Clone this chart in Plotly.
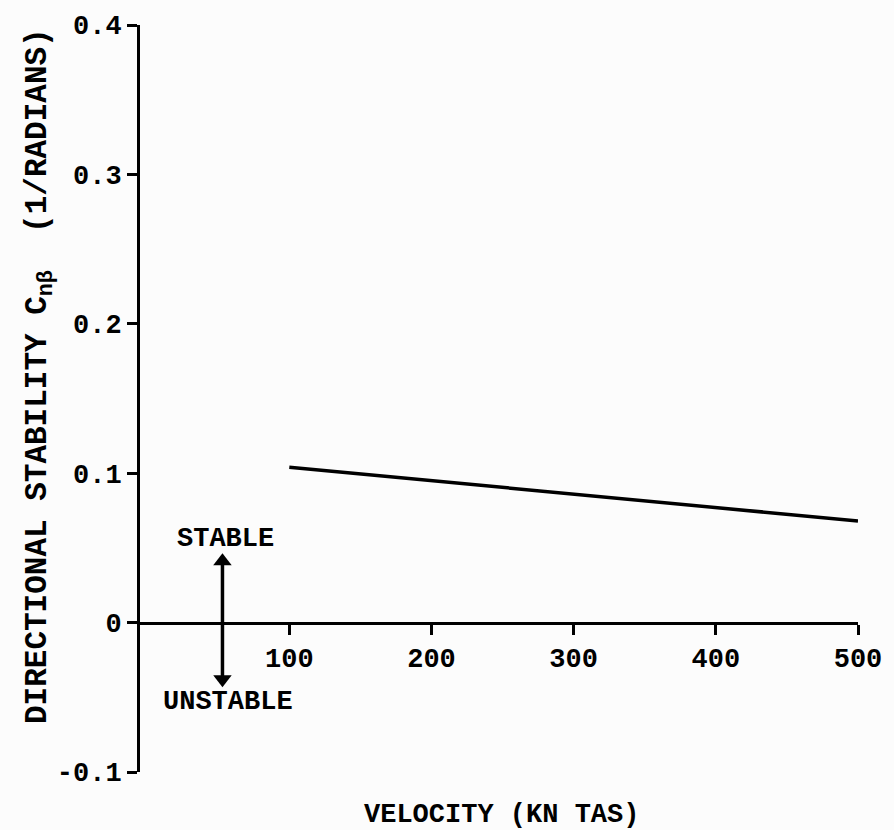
import plotly.graph_objects as go

# Data
velocity = [100, 500]
cn_beta = [0.104, 0.068]

# stable / unstable double arrow (x, y ends)
arrow_x = [53, 53]
arrow_y = [0.041, -0.038]

x_ticks = [100, 200, 300, 400, 500]
y_ticks = [-0.1, 0, 0.1, 0.2, 0.3, 0.4]
y_tick_labels = ["-0.1", "0", "0.1", "0.2", "0.3", "0.4"]

FONT = "Liberation Mono"
SIZE = 27

fig = go.Figure()
fig.add_trace(go.Scatter(
    x=velocity, y=cn_beta, mode="lines",
    line=dict(color="black", width=3.5),
    showlegend=False, hoverinfo="skip",
))
fig.add_trace(go.Scatter(
    x=arrow_x, y=arrow_y, mode="lines+markers",
    line=dict(color="black", width=3.5),
    marker=dict(symbol=["triangle-up", "triangle-down"], size=16, color="black"),
    showlegend=False, hoverinfo="skip",
))

fig.add_annotation(x=55, y=0.056, text="<b>STABLE</b>", showarrow=False,
                   font=dict(family=FONT, size=SIZE, color="black"))
fig.add_annotation(x=57, y=-0.053, text="<b>UNSTABLE</b>", showarrow=False,
                   font=dict(family=FONT, size=SIZE, color="black"))

# axis titles as annotations
fig.add_annotation(
    x=0.503, y=-0.08, xref="paper", yref="paper", text="<b>VELOCITY (KN TAS)</b>",
    showarrow=False, font=dict(family=FONT, size=SIZE, color="black"),
)
fig.add_annotation(
    x=-0.17, y=0.53, xref="paper", yref="paper", textangle=-90, showarrow=False,
    text="<b>DIRECTIONAL STABILITY C<sub>n\u03b2</sub>  (1/RADIANS)</b>",
    font=dict(family=FONT, size=31, color="black"),
)

fig.update_layout(
    width=894, height=830,
    margin=dict(l=140, r=32, t=22, b=58),
    paper_bgcolor="#fcfcfc", plot_bgcolor="#fcfcfc",
    font=dict(family=FONT, color="black"),
    xaxis=dict(
        range=[-5, 500], anchor="free", position=0.2,
        showgrid=False, zeroline=False, showline=True, linecolor="black", linewidth=3,
        tickvals=x_ticks, ticktext=[f"<b>{v}</b>" for v in x_ticks],
        ticks="outside", ticklen=10, tickwidth=2.5, tickcolor="black",
        tickfont=dict(family=FONT, size=SIZE, color="black"),
    ),
    yaxis=dict(
        range=[-0.1, 0.4],
        showgrid=False, zeroline=False, showline=True, linecolor="black", linewidth=3,
        tickvals=y_ticks, ticktext=[f"<b>{t}</b>" for t in y_tick_labels],
        ticks="outside", ticklen=10, tickwidth=2.5, tickcolor="black",
        tickfont=dict(family=FONT, size=SIZE, color="black"),
    ),
)

fig.write_html("out.html", config={"displayModeBar": False},
               post_script="document.body.style.margin='0';")
